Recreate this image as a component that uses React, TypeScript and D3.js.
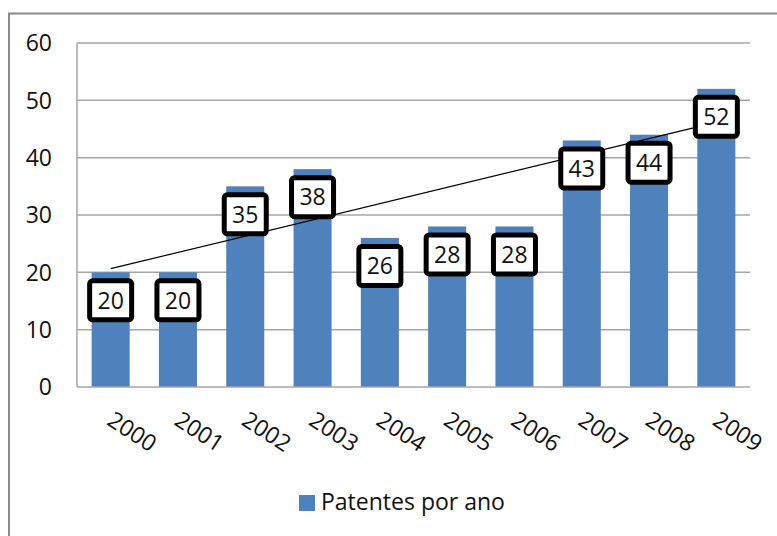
import React from "react";
import * as d3 from "d3";

const categories = ["2000", "2001", "2002", "2003", "2004", "2005", "2006", "2007", "2008", "2009"];
const values = [20, 20, 35, 38, 26, 28, 28, 43, 44, 52];
const yTicks = [0, 10, 20, 30, 40, 50, 60];
const seriesName = "Patentes por ano";

const FONT = "'Open Sans', 'Noto Sans', sans-serif";

export default function App() {
  const W = 777, H = 536;
  const left = 77, right = 750, top = 43, bottom = 387;
  const x = d3.scaleBand<string>().domain(categories).range([left, right]).paddingInner(0.435).paddingOuter(0.2175);
  const xc = d3.scaleBand<string>().domain(categories).range([left, right]);
  const y = d3.scaleLinear().domain([0, 60]).range([bottom, top]);

  // linear trend (least squares)
  const n = values.length;
  const xs = values.map((_, i) => i);
  const mx = d3.mean(xs)!;
  const my = d3.mean(values)!;
  const slope = d3.sum(xs.map((xi, i) => (xi - mx) * (values[i] - my))) / d3.sum(xs.map((xi) => (xi - mx) ** 2));
  const intercept = my - slope * mx;
  const trendPts: [number, number][] = [0, n - 1].map((i) => [
    xc(categories[i])! + xc.bandwidth() / 2,
    y(intercept + slope * i),
  ]);
  const line = d3.line();

  const boxW = 42, boxH = 39;

  return (
    <svg width={W} height={H} style={{ position: "absolute", left: 0, top: 0 }}>
      <rect x={0} y={0} width={W} height={H} fill="#fff" />
      <rect x={9} y={13.5} width={W + 20} height={H + 20} fill="#fff" stroke="#8a8a8a" strokeWidth={2} />
      {yTicks.map((t) => (
        <g key={t}>
          {t > 0 && <line x1={left} x2={right} y1={y(t)} y2={y(t)} stroke="#a6a6a6" strokeWidth={1.5} />}
          <text x={52} y={y(t)} dy="0.36em" textAnchor="end" fontFamily={FONT} fontSize={23} fill="#111">
            {t}
          </text>
        </g>
      ))}
      <line x1={left} x2={left} y1={top} y2={bottom} stroke="#a6a6a6" strokeWidth={1.5} />
      {categories.map((c, i) => (
        <rect key={c} x={x(c)} y={y(values[i])} width={x.bandwidth()} height={bottom - y(values[i])} fill="#4F81BD" />
      ))}
      <line x1={left} x2={right} y1={bottom} y2={bottom} stroke="#a6a6a6" strokeWidth={1.5} />
      <path d={line(trendPts)!} stroke="#000" strokeWidth={1.2} fill="none" />
      {categories.map((c, i) => {
        const cx = xc(c)! + xc.bandwidth() / 2;
        const cy = y(values[i]) + 28;
        return (
          <g key={c}>
            <rect x={cx - boxW / 2} y={cy - boxH / 2} width={boxW} height={boxH} rx={3} fill="#fff" stroke="#000" strokeWidth={5} />
            <text x={cx} y={cy} dy="0.36em" textAnchor="middle" fontFamily={FONT} fontSize={23} fill="#111">
              {values[i]}
            </text>
          </g>
        );
      })}
      {categories.map((c) => {
        const cx = xc(c)! + xc.bandwidth() / 2;
        return (
          <text key={c} transform={`translate(${cx - 5},${bottom + 37}) rotate(33)`} fontFamily={FONT} fontSize={23} fill="#111">
            {c}
          </text>
        );
      })}
      <rect x={299} y={495} width={16} height={16} fill="#4F81BD" />
      <text x={321} y={510} fontFamily={FONT} fontSize={23} fill="#111">
        {seriesName}
      </text>
    </svg>
  );
}
